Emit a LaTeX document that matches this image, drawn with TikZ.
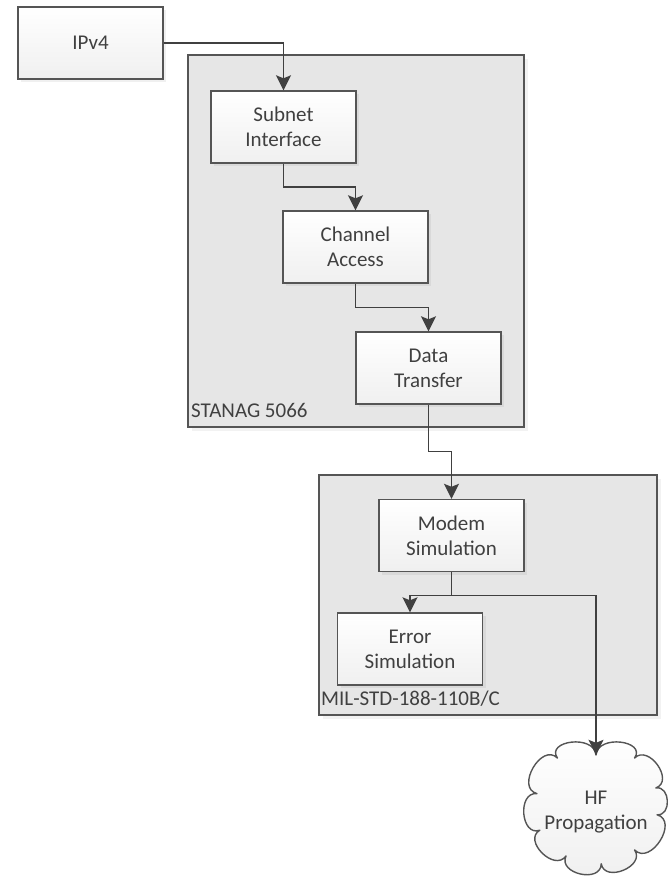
\documentclass[tikz,border=0pt]{standalone}
\usepackage{fontspec}
\setmainfont{Carlito}
\usetikzlibrary{arrows.meta,shadows,calc}
\definecolor{edge}{HTML}{555555}
\definecolor{ink}{HTML}{404040}
\definecolor{panel}{HTML}{E6E6E6}
\begin{document}
\begin{tikzpicture}[x=1pt,y=-1pt,
  every node/.style={font=\fontsize{21}{25}\selectfont, text=ink},
  block/.style={draw=edge, line width=1.4pt, minimum width=145pt, minimum height=72pt,
    top color=white, bottom color=gray!12, align=center, inner sep=0pt,
    drop shadow={shadow xshift=3pt, shadow yshift=-3pt, opacity=0.12}},
  group/.style={draw=edge, line width=1.8pt, fill=panel, inner sep=0pt,
    drop shadow={shadow xshift=4pt, shadow yshift=-4pt, opacity=0.10}},
  grouplabel/.style={anchor=base west, inner sep=0pt},
  puffline/.style={draw=edge, line width=1.4pt, line join=round, top color=white, bottom color=gray!12},
  puff/.style={looseness=1.4},
  wire/.style={draw=ink, line width=1.4pt},
  flow/.style={wire, -{Stealth[length=15pt,width=15pt,inset=3pt]}}
]
\useasboundingbox (0,0) rectangle (667,883);

% protocol stack containers
\node[group, minimum width=336pt, minimum height=372pt] (stanag) at (356,241) {};
\node[group, minimum width=338pt, minimum height=240pt] (mil) at (488,595) {};
\node[grouplabel] (stanaglbl) at (191,417) {STANAG 5066};
\node[grouplabel] (millbl) at (321,705) {MIL-STD-188-110B/C};

% processing blocks
\node[block] (ipv4)    at (90.5,43)    {IPv4};
\node[block] (subnet)  at (283.5,127)  {Subnet\\Interface};
\node[block] (channel) at (355.5,247)  {Channel\\Access};
\node[block] (data)    at (428.5,368)  {Data\\Transfer};
\node[block] (modem)   at (451.5,535.5){Modem\\Simulation};
\node[block] (error)   at (410,649)    {Error\\Simulation};

% channel model: cloud outline through its notches, deep notch on top
\coordinate (hfc) at (596,804);
\begin{scope}[shift={(hfc)}, y=1pt]
  \path[puffline] (90:49)
    to[puff, out=95,  in=125] (130:60)
    to[puff, out=135, in=165] (170:60)
    to[puff, out=175, in=200] (205:62)
    to[puff, out=210, in=235] (240:60)
    to[puff, out=245, in=270] (275:60)
    to[puff, out=280, in=305] (310:60)
    to[puff, out=315, in=345] (350:62)
    to[puff, out=355, in=10]  (15:62)
    to[puff, out=20,  in=45]  (50:60)
    to[puff, out=55,  in=85]  (90:49)
    -- cycle;
\end{scope}
\node[rectangle, inner sep=0pt, minimum width=110pt, minimum height=114pt, align=center]
  (hf) at (596,812) {HF\\Propagation};

% data path
\draw[flow] (ipv4.east) -| (subnet.north);
\draw[flow] (subnet.south) |- ($(subnet.south)!0.5!(channel.north)$) -| (channel.north);
\draw[flow] (channel.south) |- ($(channel.south)!0.5!(data.north)$) -| (data.north);
\draw[flow] (data.south) |- ($(data.south)!0.5!(modem.north)$) -| (modem.north);
\path (modem.south) ++(0,23) coordinate (split);
\draw[wire] (modem.south) -- (split);
\draw[flow] (split) -| (error.north);
\draw[flow] (split) -| (hf.north);
\end{tikzpicture}
\end{document}
